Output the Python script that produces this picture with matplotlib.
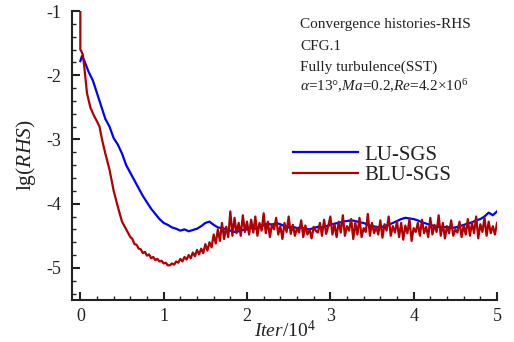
import numpy as np
import matplotlib
matplotlib.use("Agg")
import matplotlib.pyplot as plt

plt.rcParams['font.family'] = ['Liberation Serif', 'DejaVu Serif']
plt.rcParams['mathtext.fontset'] = 'custom'
plt.rcParams['mathtext.rm'] = 'Liberation Serif'
plt.rcParams['mathtext.it'] = 'Liberation Serif:italic'
plt.rcParams['axes.unicode_minus'] = False

# ---------------- data ----------------
blue_x_early = [0.00, 0.02, 0.05, 0.10, 0.15, 0.20, 0.25, 0.30, 0.35, 0.40,
                0.45, 0.50, 0.55, 0.60, 0.65, 0.70, 0.75, 0.80]
blue_y_early = [-1.78, -1.70, -1.78, -1.95, -2.08, -2.28, -2.48, -2.68, -2.80, -2.98,
                -3.08, -3.22, -3.40, -3.52, -3.64, -3.76, -3.88, -3.98]
blue_y_tail = [  # x = 0.85 ... 5.00, step 0.05
    -4.08, -4.16, -4.24, -4.30, -4.33, -4.37, -4.39, -4.42, -4.40, -4.43,
    -4.41, -4.39, -4.35, -4.30, -4.28, -4.33, -4.37, -4.38, -4.40, -4.42,
    -4.44, -4.43, -4.41, -4.40, -4.38, -4.39, -4.36, -4.34, -4.31, -4.33,
    -4.30, -4.32, -4.35, -4.37, -4.36, -4.38, -4.37, -4.39, -4.40, -4.38,
    -4.36, -4.37, -4.35, -4.33, -4.31, -4.30, -4.28, -4.27, -4.26, -4.27,
    -4.29, -4.30, -4.33, -4.35, -4.36, -4.37, -4.35, -4.33, -4.30, -4.27,
    -4.24, -4.22, -4.23, -4.24, -4.26, -4.29, -4.31, -4.33, -4.35, -4.36,
    -4.37, -4.36, -4.38, -4.37, -4.35, -4.33, -4.31, -4.29, -4.26, -4.24,
    -4.20, -4.14, -4.18, -4.12]

red_x_early = [0.00, 0.00, 0.01, 0.03, 0.05, 0.08, 0.12, 0.16, 0.20, 0.23,
               0.26, 0.30, 0.35, 0.40, 0.45, 0.50, 0.55, 0.60, 0.625, 0.65,
               0.675, 0.70, 0.725, 0.75, 0.775, 0.80, 0.825, 0.85, 0.875, 0.90,
               0.925, 0.95, 0.975, 1.00, 1.025, 1.05]
red_y_early = [-1.00, -1.60, -1.62, -1.68, -1.90, -2.28, -2.50, -2.62, -2.72, -2.80,
               -3.00, -3.22, -3.47, -3.80, -4.05, -4.28, -4.40, -4.52, -4.55, -4.63,
               -4.64, -4.70, -4.71, -4.77, -4.75, -4.81, -4.79, -4.85, -4.83, -4.88,
               -4.86, -4.90, -4.89, -4.93, -4.92, -4.96]
red_y_tail = [  # x = 1.075 ... 5.00, step 0.025
    -4.96, -4.93, -4.95, -4.90, -4.92, -4.86, -4.90, -4.83, -4.87, -4.80,
    -4.85, -4.76, -4.82, -4.72, -4.79, -4.70, -4.77, -4.63, -4.73, -4.60,
    -4.68, -4.48, -4.62, -4.40, -4.58, -4.30, -4.55, -4.36, -4.52, -4.12,
    -4.50, -4.22, -4.46, -4.30, -4.50, -4.18, -4.44, -4.28, -4.48, -4.25,
    -4.45, -4.20, -4.50, -4.30, -4.42, -4.15, -4.46, -4.28, -4.52, -4.32,
    -4.40, -4.22, -4.48, -4.35, -4.55, -4.30, -4.44, -4.20, -4.47, -4.33,
    -4.50, -4.38, -4.45, -4.26, -4.52, -4.34, -4.48, -4.40, -4.54, -4.36,
    -4.42, -4.45, -4.30, -4.50, -4.25, -4.47, -4.35, -4.20, -4.48, -4.32,
    -4.52, -4.28, -4.45, -4.18, -4.50, -4.35, -4.42, -4.24, -4.55, -4.30,
    -4.48, -4.22, -4.52, -4.38, -4.44, -4.16, -4.50, -4.30, -4.46, -4.36,
    -4.48, -4.26, -4.53, -4.32, -4.42, -4.20, -4.50, -4.35, -4.45, -4.28,
    -4.52, -4.30, -4.56, -4.34, -4.46, -4.24, -4.58, -4.38, -4.44, -4.30,
    -4.50, -4.25, -4.46, -4.36, -4.52, -4.22, -4.48, -4.33, -4.44, -4.18,
    -4.50, -4.30, -4.54, -4.35, -4.46, -4.26, -4.50, -4.40, -4.45, -4.28,
    -4.52, -4.34, -4.48, -4.24, -4.50, -4.30, -4.46, -4.20, -4.54, -4.32,
    -4.44, -4.22, -4.50, -4.28, -4.46, -4.35, -4.48, -4.30]

x_ticks = [0, 1, 2, 3, 4, 5]
y_ticks = [-1, -2, -3, -4, -5]
series_labels = ['LU-SGS', 'BLU-SGS']
info_lines = ['Convergence histories-RHS', 'CFG.1', 'Fully turbulence(SST)',
              r'$\alpha$=13°,$Ma$=0.2,$Re$=4.2×10$^6$']

blue_x = np.concatenate([blue_x_early, np.linspace(0.85, 5.0, len(blue_y_tail))])
blue_y = np.concatenate([blue_y_early, blue_y_tail])
red_x = np.concatenate([red_x_early, np.linspace(1.075, 5.0, len(red_y_tail))])
red_y = np.concatenate([red_y_early, red_y_tail])

# ---------------- figure ----------------
W, H = 514, 342
fig = plt.figure(figsize=(W / 100, H / 100), dpi=100)
ax = fig.add_axes([72 / W, 1 - 300 / H, (497 - 72) / W, (300 - 11) / H])

BLUE = '#0000ff'
RED = '#b00000'
TXT = '#222222'
ax.plot(blue_x, blue_y, color=BLUE, lw=1.6, label=series_labels[0], zorder=2)
ax.plot(red_x, red_y, color=RED, lw=1.6, label=series_labels[1], zorder=3)

ax.set_xlim(-0.1, 5.0)
ax.set_ylim(-5.5, -1.0)
ax.set_xticks(x_ticks)
ax.set_yticks(y_ticks)
ax.set_xticklabels([str(v) for v in x_ticks])
ax.set_yticklabels([str(v) for v in y_ticks])
ax.set_xticks(np.arange(0, 5.01, 0.2), minor=True)
ax.set_yticks(np.arange(-5.4, -0.99, 0.2), minor=True)

for s in ['top', 'right']:
    ax.spines[s].set_visible(False)
for s in ['left', 'bottom']:
    ax.spines[s].set_linewidth(1.5)
    ax.spines[s].set_color(TXT)
ax.tick_params(which='major', direction='in', length=6, width=1.5, labelsize=13,
               colors=TXT)
ax.tick_params(axis='y', which='major', pad=8)
ax.tick_params(axis='x', which='major', pad=6)
ax.tick_params(which='minor', direction='in', length=3, width=1.0, colors=TXT)

ax.set_xlabel(r'$Iter$/10$^4$', fontsize=14, labelpad=-4, color=TXT)
ax.set_ylabel(r'lg($RHS$)', fontsize=15.5, labelpad=6, color=TXT)

# annotation lines
baselines = [28, 50, 71, 91]
for txt, b in zip(info_lines, baselines):
    fig.text(300 / W, 1 - b / H, txt, fontsize=11, ha='left', va='baseline',
             color=TXT)

leg = ax.legend(loc='upper left', bbox_to_anchor=(293 / W, 1 - 145 / H),
                bbox_transform=fig.transFigure, frameon=False, fontsize=15,
                handlelength=3.1, handletextpad=0.34, borderpad=0, borderaxespad=0,
                labelspacing=0.05)
for t in leg.get_texts():
    t.set_color(TXT)

fig.savefig('out.png', dpi=100, facecolor='white')
